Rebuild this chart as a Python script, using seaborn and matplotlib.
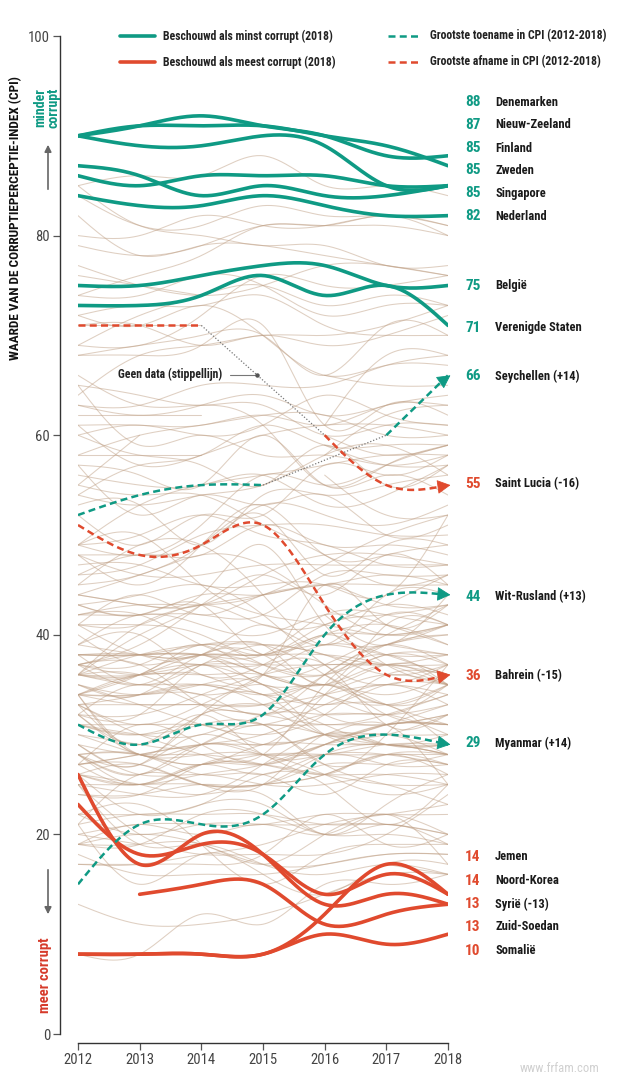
"""
CPI 2012-2018: spaghetti chart of corruption perception index per country,
with the least / most corrupt countries and the biggest movers highlighted.

Output:
    out.png
"""

import numpy as np
import pandas as pd
import matplotlib
matplotlib.use("Agg")
import matplotlib.pyplot as plt
import seaborn as sns
from matplotlib import font_manager
from matplotlib.lines import Line2D

YEARS = [2012, 2013, 2014, 2015, 2016, 2017, 2018]
N = None

# Highlighted countries
LEAST_CORRUPT = {
    "Denemarken": [90, 91, 92, 91, 90, 88, 88],
    "Nieuw-Zeeland": [90, 91, 91, 91, 90, 89, 87],
    "Finland": [90, 89, 89, 90, 89, 85, 85],
    "Zweden": [86, 85, 86, 86, 86, 85, 85],
    "Singapore": [87, 86, 84, 85, 84, 84, 85],
    "Nederland": [84, 83, 83, 84, 83, 82, 82],
    "België": [75, 75, 76, 77, 77, 75, 75],
    "Verenigde Staten": [73, 73, 74, 76, 74, 75, 71],
}
MOST_CORRUPT = {
    "Jemen": [23, 18, 19, 18, 14, 16, 14],
    "Noord-Korea": [8, 8, 8, 8, 12, 17, 14],
    "Syrië": [26, 17, 20, 18, 13, 14, 13],
    "Zuid-Soedan": [N, 14, 15, 15, 11, 12, 13],
    "Somalië": [8, 8, 8, 8, 10, 9, 10],
}
BIGGEST_RISE = {
    "Seychellen": [52, 54, 55, 55, N, 60, 66],
    "Wit-Rusland": [31, 29, 31, 32, 40, 44, 44],
    "Myanmar": [15, 21, 21, 22, 28, 30, 29],
}
BIGGEST_FALL = {
    "Saint Lucia": [71, 71, 71, N, 60, 55, 55],
    "Bahrein": [51, 48, 49, 51, 43, 36, 36],
}

# All other countries (thin background lines)
BG_EUROPE = {
    "Zwitserland": [86, 85, 86, 86, 86, 85, 85],
    "Noorwegen": [85, 86, 86, 88, 85, 85, 84],
    "Luxemburg": [80, 80, 82, 81, 81, 82, 81],
    "Verenigd Koninkrijk": [74, 76, 78, 81, 81, 82, 80],
    "Duitsland": [79, 78, 79, 81, 81, 81, 80],
    "Oostenrijk": [69, 69, 72, 76, 75, 75, 76],
    "IJsland": [82, 78, 79, 79, 78, 77, 76],
    "Estland": [64, 68, 69, 70, 70, 71, 73],
    "Ierland": [69, 72, 74, 75, 73, 74, 73],
    "Frankrijk": [71, 71, 69, 70, 69, 70, 72],
    "Portugal": [63, 62, 63, 64, 62, 63, 64],
    "Slovenië": [61, 57, 58, 60, 61, 61, 60],
    "Polen": [58, 60, 61, 62, 62, 60, 60],
    "Cyprus": [66, 63, 63, 61, 55, 57, 59],
    "Tsjechië": [49, 48, 51, 56, 55, 57, 59],
    "Litouwen": [54, 57, 58, 61, 59, 59, 59],
    "Letland": [49, 53, 55, 56, 57, 58, 58],
    "Spanje": [65, 59, 60, 58, 58, 57, 58],
    "Georgië": [52, 49, 52, 52, 57, 56, 58],
    "Italië": [42, 43, 43, 44, 47, 50, 52],
    "Malta": [57, 56, 55, 60, 55, 56, 54],
    "Slowakije": [46, 47, 50, 51, 51, 50, 50],
    "Kroatië": [46, 48, 48, 51, 49, 49, 48],
    "Griekenland": [36, 40, 43, 46, 44, 48, 45],
    "Hongarije": [55, 54, 54, 51, 48, 45, 46],
    "Roemenië": [44, 43, 43, 46, 48, 48, 47],
    "Montenegro": [41, 44, 42, 44, 45, 46, 45],
    "Bulgarije": [41, 41, 43, 41, 41, 43, 42],
    "Servië": [39, 42, 41, 40, 42, 41, 39],
    "Bosnië": [42, 42, 39, 38, 39, 38, 38],
    "Macedonië": [43, 44, 45, 42, 37, 35, 37],
    "Albanië": [33, 31, 33, 36, 39, 38, 36],
    "Kosovo": [34, 33, 33, 33, 36, 39, 37],
    "Turkije": [49, 50, 45, 42, 41, 40, 41],
    "Moldavië": [36, 35, 35, 33, 30, 31, 33],
    "Oekraïne": [26, 25, 26, 27, 29, 30, 32],
    "Rusland": [28, 28, 27, 29, 29, 29, 28],
    "Armenië": [34, 36, 37, 35, 33, 35, 35],
    "Azerbeidzjan": [27, 28, 29, 29, 30, 31, 25],
}
BG_AMERICAS = {
    "Canada": [84, 81, 81, 83, 82, 82, 81],
    "Uruguay": [72, 73, 73, 74, 71, 70, 70],
    "Barbados": [76, 75, 74, N, 61, 68, 68],
    "Chili": [72, 71, 73, 70, 66, 67, 67],
    "Bahama's": [71, 71, 71, N, 66, 65, 65],
    "Dominica": [58, 58, 58, N, 59, 57, 57],
    "Saint Vincent": [62, 62, 62, N, 60, 58, 59],
    "Costa Rica": [54, 53, 54, 55, 58, 59, 56],
    "Grenada": [N, N, N, N, 56, 52, 52],
    "Cuba": [48, 46, 46, 47, 47, 47, 47],
    "Suriname": [37, 36, 36, 36, 45, 41, 43],
    "Trinidad en Tobago": [39, 38, 38, 39, 35, 41, 41],
    "Argentinië": [35, 34, 34, 32, 36, 39, 40],
    "Jamaica": [38, 38, 38, 41, 39, 44, 44],
    "Guyana": [28, 27, 30, 29, 34, 38, 37],
    "Panama": [38, 35, 37, 39, 38, 37, 37],
    "Colombia": [36, 36, 37, 37, 37, 37, 36],
    "Brazilië": [43, 42, 43, 38, 40, 37, 35],
    "El Salvador": [38, 38, 39, 39, 36, 33, 35],
    "Peru": [38, 38, 38, 36, 35, 37, 35],
    "Ecuador": [32, 35, 33, 32, 31, 32, 34],
    "Bolivia": [34, 34, 35, 34, 33, 33, 29],
    "Dominicaanse Republiek": [32, 29, 32, 33, 31, 29, 30],
    "Mexico": [34, 34, 35, 35, 30, 29, 28],
    "Paraguay": [25, 24, 24, 27, 30, 29, 29],
    "Honduras": [28, 26, 29, 31, 30, 29, 29],
    "Guatemala": [33, 29, 32, 28, 28, 28, 27],
    "Nicaragua": [29, 28, 28, 27, 26, 26, 25],
    "Haïti": [19, 19, 19, 17, 20, 22, 20],
    "Venezuela": [19, 20, 19, 17, 17, 18, 18],
}
BG_ASIA = {
    "Australië": [85, 81, 80, 79, 79, 77, 77],
    "Hongkong": [77, 75, 74, 75, 77, 77, 76],
    "Japan": [74, 74, 76, 75, 72, 73, 73],
    "Bhutan": [63, 63, 65, 65, 65, 67, 68],
    "Taiwan": [61, 61, 61, 62, 61, 63, 63],
    "Brunei": [55, 60, N, N, 58, 62, 63],
    "Zuid-Korea": [56, 55, 55, 56, 53, 54, 57],
    "Maleisië": [49, 50, 52, 50, 49, 47, 47],
    "Vanuatu": [N, N, N, N, N, 43, 46],
    "India": [36, 36, 38, 38, 40, 40, 41],
    "China": [39, 40, 36, 37, 40, 41, 39],
    "Salomonseilanden": [N, N, N, N, 42, 39, 44],
    "Indonesië": [32, 32, 34, 36, 37, 37, 38],
    "Sri Lanka": [40, 37, 38, 37, 36, 38, 38],
    "Mongolië": [36, 38, 39, 39, 38, 36, 37],
    "Oost-Timor": [33, 30, 28, 28, 35, 38, 35],
    "Vietnam": [31, 31, 31, 31, 33, 35, 33],
    "Filipijnen": [34, 36, 38, 35, 35, 34, 36],
    "Thailand": [37, 35, 38, 38, 35, 37, 36],
    "Pakistan": [27, 28, 29, 30, 32, 32, 33],
    "Kazachstan": [28, 26, 29, 28, 29, 31, 31],
    "Malediven": [N, N, N, N, 36, 33, 31],
    "Nepal": [27, 31, 29, 27, 29, 31, 31],
    "Kirgizië": [24, 24, 27, 28, 28, 29, 29],
    "Laos": [21, 26, 25, 25, 30, 29, 29],
    "Papoea-Nieuw-Guinea": [25, 25, 25, 25, 28, 29, 28],
    "Bangladesh": [26, 27, 25, 25, 26, 28, 26],
    "Tadzjikistan": [22, 22, 23, 26, 25, 21, 25],
    "Oezbekistan": [17, 17, 18, 19, 21, 22, 23],
    "Cambodja": [22, 20, 21, 21, 21, 21, 20],
    "Turkmenistan": [17, 17, 17, 18, 22, 19, 20],
    "Afghanistan": [8, 8, 12, 11, 15, 15, 16],
}
BG_AFRICA_MIDEAST = {
    "Verenigde Arabische Emiraten": [68, 69, 70, 70, 66, 71, 70],
    "Qatar": [68, 68, 69, 71, 61, 63, 62],
    "Israël": [60, 61, 60, 61, 64, 62, 61],
    "Botswana": [65, 64, 63, 63, 60, 61, 61],
    "Rwanda": [53, 53, 49, 54, 54, 55, 56],
    "Kaapverdië": [60, 58, 57, 55, 59, 55, 57],
    "Mauritius": [57, 52, 54, 53, 54, 50, 51],
    "Oman": [47, 47, 45, 45, 45, 44, 52],
    "Namibië": [48, 48, 49, 53, 52, 51, 53],
    "Jordanië": [48, 45, 49, 53, 48, 48, 49],
    "Saoedi-Arabië": [44, 46, 49, 52, 46, 49, 49],
    "Zuid-Afrika": [43, 42, 44, 44, 45, 43, 43],
    "Senegal": [36, 41, 43, 44, 45, 45, 45],
    "Sao Tomé": [42, 42, 42, 42, 46, 46, 46],
    "Tunesië": [41, 41, 40, 38, 41, 42, 43],
    "Burkina Faso": [38, 38, 38, 38, 42, 42, 41],
    "Ghana": [45, 46, 48, 47, 43, 40, 41],
    "Marokko": [37, 37, 39, 36, 37, 40, 43],
    "Benin": [36, 36, 39, 37, 36, 39, 40],
    "Koeweit": [44, 43, 44, 49, 41, 39, 41],
    "Swaziland": [37, 39, 43, N, N, 39, 38],
    "Lesotho": [45, 49, 49, 44, 39, 42, 41],
    "Ethiopië": [33, 33, 33, 33, 34, 35, 34],
    "Algerije": [34, 36, 36, 36, 34, 33, 35],
    "Ivoorkust": [29, 27, 32, 32, 34, 36, 35],
    "Egypte": [32, 32, 37, 36, 34, 32, 35],
    "Tanzania": [35, 33, 31, 30, 32, 36, 36],
    "Zambia": [37, 38, 38, 38, 38, 37, 35],
    "Niger": [33, 34, 35, 34, 35, 33, 34],
    "Gabon": [35, 34, 37, 34, 35, 32, 31],
    "Liberia": [41, 38, 37, 37, 37, 31, 32],
    "Malawi": [37, 37, 33, 31, 31, 31, 32],
    "Mali": [34, 28, 32, 35, 32, 31, 32],
    "Djibouti": [36, 36, 34, 34, 30, 31, 31],
    "Gambia": [34, 28, 29, 28, 26, 30, 37],
    "Sierra Leone": [31, 30, 31, 29, 30, 30, 30],
    "Togo": [30, 29, 29, 32, 32, 32, 30],
    "Guinee": [24, 24, 25, 25, 27, 27, 28],
    "Iran": [28, 25, 27, 27, 29, 30, 28],
    "Libanon": [30, 28, 27, 28, 28, 28, 28],
    "Comoren": [28, 28, 26, 26, 24, 27, 27],
    "Kenia": [27, 27, 25, 25, 26, 28, 27],
    "Mauritanië": [31, 30, 30, 31, 27, 28, 28],
    "Nigeria": [27, 25, 27, 26, 28, 27, 27],
    "Oeganda": [29, 26, 26, 25, 25, 26, 26],
    "Madagaskar": [32, 28, 28, 28, 26, 24, 25],
    "Mozambique": [31, 30, 31, 31, 27, 25, 23],
    "Kameroen": [26, 25, 27, 27, 26, 25, 25],
    "Zimbabwe": [20, 21, 21, 21, 22, 22, 22],
    "Eritrea": [25, 20, 18, 18, 18, 20, 24],
    "Congo (DRC)": [21, 22, 22, 22, 21, 21, 20],
    "Tsjaad": [19, 19, 22, 22, 20, 20, 19],
    "Irak": [18, 16, 16, 16, 17, 18, 18],
    "Burundi": [19, 21, 20, 21, 20, 22, 17],
    "Congo": [26, 22, 23, 23, 20, 21, 19],
    "Libië": [21, 15, 18, 16, 14, 17, 17],
    "Soedan": [13, 11, 11, 12, 14, 16, 16],
    "Equatoriaal-Guinea": [20, 19, N, N, N, 17, 16],
    "Guinee-Bissau": [25, 19, 19, 17, 16, 17, 16],
    "Angola": [22, 23, 19, 15, 18, 19, 19],
    "Centraal-Afrikaanse Republiek": [26, 25, 24, 24, 20, 23, 26],
}

# Right-hand labels: (country, text, label height in px from top)
LABELS = [
    ("Denemarken", "Denemarken", 102),
    ("Nieuw-Zeeland", "Nieuw-Zeeland", 125),
    ("Finland", "Finland", 148),
    ("Zweden", "Zweden", 170),
    ("Singapore", "Singapore", 193),
    ("Nederland", "Nederland", 216),
    ("België", "België", 286),
    ("Verenigde Staten", "Verenigde Staten", 328),
    ("Seychellen", "Seychellen (+14)", 376),
    ("Saint Lucia", "Saint Lucia (-16)", 484),
    ("Wit-Rusland", "Wit-Rusland (+13)", 597),
    ("Bahrein", "Bahrein (-15)", 676),
    ("Myanmar", "Myanmar (+14)", 743),
    ("Jemen", "Jemen", 857),
    ("Noord-Korea", "Noord-Korea", 881),
    ("Syrië", "Syrië (-13)", 904),
    ("Zuid-Soedan", "Zuid-Soedan", 927),
    ("Somalië", "Somalië", 951),
]

GREEN = "#0f9a84"
RED = "#e04a2e"
BEIGE = "#bf9f84"
W, H = 624, 1080

sns.set_theme(style="white")
available = {f.name for f in font_manager.fontManager.ttflist}
COND = next((f for f in ["Liberation Sans Narrow", "Roboto Condensed", "Roboto"]
             if f in available), "DejaVu Sans")
plt.rcParams["font.family"] = [COND, "DejaVu Sans"]


def runs(values):
    """Split a series into runs of consecutive years with data."""
    out, cur = [], []
    for year, v in zip(YEARS, values):
        if v is None:
            if cur:
                out.append(cur)
            cur = []
        else:
            cur.append((year, v))
    if cur:
        out.append(cur)
    return out


def smooth(points, n=30):
    """Natural cubic spline through the points."""
    xs = np.array([p[0] for p in points], dtype=float)
    ys = np.array([p[1] for p in points], dtype=float)
    k = len(xs)
    if k == 2:
        t = np.linspace(0, 1, n)
        return xs[0] + t * (xs[1] - xs[0]), ys[0] + t * (ys[1] - ys[0])
    h = np.diff(xs)
    A = np.zeros((k, k))
    b = np.zeros(k)
    A[0, 0] = A[-1, -1] = 1
    for i in range(1, k - 1):
        A[i, i - 1] = h[i - 1]
        A[i, i] = 2 * (h[i - 1] + h[i])
        A[i, i + 1] = h[i]
        b[i] = 6 * ((ys[i + 1] - ys[i]) / h[i] - (ys[i] - ys[i - 1]) / h[i - 1])
    M = np.linalg.solve(A, b)
    px, py = [], []
    for i in range(k - 1):
        x = np.linspace(xs[i], xs[i + 1], n, endpoint=(i == k - 2))
        a, c = xs[i + 1] - x, x - xs[i]
        y = ((M[i] * a ** 3 + M[i + 1] * c ** 3) / (6 * h[i])
             + (ys[i] / h[i] - M[i] * h[i] / 6) * a
             + (ys[i + 1] / h[i] - M[i + 1] * h[i] / 6) * c)
        px.append(x)
        py.append(y)
    return np.concatenate(px), np.concatenate(py)


def fx(px):
    return px / W


def fy(py):
    return 1 - py / H


fig = plt.figure(figsize=(W / 100, H / 100), dpi=100)
ax = fig.add_axes([fx(78), 46 / H, 370 / W, 998 / H])

# Background lines
rows = []
seg = 0
for group in [BG_EUROPE, BG_AMERICAS, BG_ASIA, BG_AFRICA_MIDEAST]:
    for name, values in group.items():
        for run in runs(values):
            if len(run) < 2:
                continue
            xs, ys = smooth(run)
            rows.append(pd.DataFrame({"seg": seg, "x": xs, "y": ys}))
            seg += 1
bg = pd.concat(rows, ignore_index=True)
sns.lineplot(data=bg, x="x", y="y", units="seg", estimator=None, sort=False,
             color=BEIGE, lw=0.75, alpha=0.5, ax=ax, legend=False)


def draw_highlight(values, color, dashed):
    parts = runs(values)
    lw = 1.8 if dashed else 2.6
    ls = (0, (2.8, 1.7)) if dashed else "-"
    last = None
    for i, run in enumerate(parts):
        xs, ys = smooth(run) if len(run) > 1 else (np.array([run[0][0]]), np.array([run[0][1]]))
        sns.lineplot(x=xs, y=ys, sort=False, color=color, lw=lw, linestyle=ls,
                     ax=ax, legend=False, zorder=4)
        if i > 0:
            # no data: dotted connector across the gap
            ax.plot([parts[i - 1][-1][0], run[0][0]], [parts[i - 1][-1][1], run[0][1]],
                    color="#777777", ls=(0, (1, 1.5)), lw=0.9, zorder=3)
        last = (xs, ys)
    if dashed:
        xs, ys = last
        ax.annotate("", xy=(xs[-1] + 0.04, ys[-1]), xytext=(xs[-4], ys[-4]),
                    arrowprops=dict(arrowstyle="-|>,head_length=0.6,head_width=0.32",
                                    color=color, lw=0.6, shrinkA=0, shrinkB=0,
                                    mutation_scale=14),
                    annotation_clip=False, zorder=5)


for values in LEAST_CORRUPT.values():
    draw_highlight(values, GREEN, False)
for values in MOST_CORRUPT.values():
    draw_highlight(values, RED, False)
for values in BIGGEST_RISE.values():
    draw_highlight(values, GREEN, True)
for values in BIGGEST_FALL.values():
    draw_highlight(values, RED, True)

# Axes styling
ax.set_xlim(2012, 2018)
ax.set_ylim(0, 100)
ax.set_xticks(YEARS)
ax.set_xticklabels([str(y) for y in YEARS])
ax.set_yticks(range(0, 101, 20))
ax.set_xlabel("")
ax.set_ylabel("")
ax.grid(False)
sns.despine(ax=ax)
ax.spines["left"].set_position(("outward", 13))
ax.spines["bottom"].set_position(("outward", 6.5))
for side in ["left", "bottom"]:
    ax.spines[side].set_color("#333333")
    ax.spines[side].set_linewidth(1.0)
ax.tick_params(axis="both", bottom=True, left=True, direction="out", length=5,
               width=0.9, color="#555555", labelcolor="#444444", labelsize=10.5, pad=2)

# Annotation for the dotted gap of Saint Lucia
sl = runs(BIGGEST_FALL["Saint Lucia"])
gx0, gy0 = sl[0][-1]
gx1, gy1 = sl[1][0]
dot_x = gx0 + 0.45 * (gx1 - gx0)
dot_y = gy0 + 0.45 * (gy1 - gy0)
ax.plot([dot_x - 0.44, dot_x], [dot_y, dot_y], color="#777777", lw=0.8, zorder=5)
ax.plot([dot_x], [dot_y], "o", color="#555555", ms=2.2, zorder=6)
ax.text(dot_x - 0.56, dot_y, "Geen data (stippellijn)", ha="right", va="center",
        fontsize=8.5, fontweight="bold", color="#222222", zorder=6)

# Legend
legend_items = [
    (120, 155, 36, GREEN, False, "Beschouwd als minst corrupt (2018)", 163),
    (120, 155, 62, RED, False, "Beschouwd als meest corrupt (2018)", 163),
    (388, 421, 36, GREEN, True, "Grootste toename in CPI (2012-2018)", 430),
    (388, 421, 62, RED, True, "Grootste afname in CPI (2012-2018)", 430),
]
for x0, x1, y, color, dashed, text, tx in legend_items:
    fig.add_artist(Line2D([fx(x0), fx(x1)], [fy(y), fy(y)], color=color,
                          lw=1.8 if dashed else 2.6,
                          ls=(0, (2.8, 1.7)) if dashed else "-"))
    fig.text(fx(tx), fy(y), text, ha="left", va="center", fontsize=8.5,
             fontweight="bold", color="#222222")

# Right-hand labels
all_series = {**LEAST_CORRUPT, **MOST_CORRUPT, **BIGGEST_RISE, **BIGGEST_FALL}
for key, text, py in LABELS:
    color = GREEN if key in LEAST_CORRUPT or key in BIGGEST_RISE else RED
    fig.text(fx(465), fy(py), str(all_series[key][-1]), ha="left", va="center",
             fontsize=11, fontweight="bold", color=color)
    fig.text(fx(495), fy(py), text, ha="left", va="center", fontsize=9,
             fontweight="bold", color="#1a1a1a")

# Y axis title and direction hints
fig.text(fx(16), fy(218), "WAARDE VAN DE CORRUPTIEPERCEPTIE-INDEX (CPI)", rotation=90,
         ha="center", va="center", fontsize=9.5, fontweight="bold", color="#111111")
fig.text(fx(47), fy(108), "minder\ncorrupt", rotation=90, ha="center", va="center",
         multialignment="center", fontsize=10, fontweight="bold", color=GREEN,
         linespacing=0.95)
fig.text(fx(45), fy(975), "meer corrupt", rotation=90, ha="center", va="center",
         fontsize=10.5, fontweight="bold", color="#d63a2a")
ax.annotate("", xy=(48, H - 142), xytext=(48, H - 192), xycoords="figure pixels",
            textcoords="figure pixels", annotation_clip=False,
            arrowprops=dict(arrowstyle="-|>", color="#666666", lw=1.2, mutation_scale=10))
ax.annotate("", xy=(48, H - 917), xytext=(48, H - 867), xycoords="figure pixels",
            textcoords="figure pixels", annotation_clip=False,
            arrowprops=dict(arrowstyle="-|>", color="#666666", lw=1.2, mutation_scale=10))

fig.text(fx(560), fy(1068), "www.frfam.com", ha="center", va="center", fontsize=9,
         color="#d0d0d0")

fig.savefig("out.png", dpi=100)
